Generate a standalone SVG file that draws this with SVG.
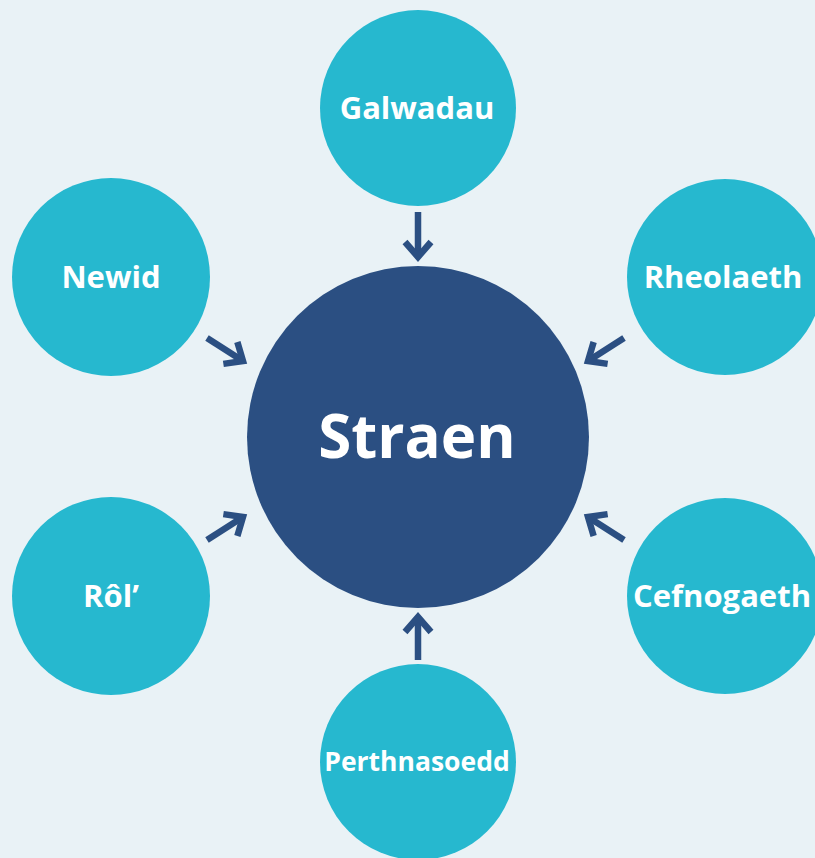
<svg xmlns="http://www.w3.org/2000/svg" width="815" height="858" viewBox="0 0 815 858">
<style>
.bg{fill:#e9f2f6}
.sat{fill:#26b8cf}
.core{fill:#2b4f82}
.lbl{font-family:"Open Sans","Noto Sans","Liberation Sans",sans-serif;font-weight:700;fill:#ffffff;text-anchor:middle}
.conn{stroke:#2b4f82;stroke-width:6.5;fill:none;stroke-linecap:butt}
</style>
<defs>
<marker id="ah" markerUnits="userSpaceOnUse" viewBox="-22 -18 28 36" refX="0" refY="0" markerWidth="28" markerHeight="36" orient="auto">
<path d="M-15,-13 L0,0 L-15,13" fill="none" stroke="#2b4f82" stroke-width="6.5" stroke-linejoin="miter"/>
</marker>
</defs>
<rect class="bg" x="0" y="0" width="815" height="858"/>
<g id="connectors">
<line class="conn" x1="418" y1="212" x2="418" y2="257" marker-end="url(#ah)"/>
<line class="conn" x1="418" y1="660" x2="418" y2="617" marker-end="url(#ah)"/>
<line class="conn" x1="207" y1="338" x2="243" y2="361" marker-end="url(#ah)"/>
<line class="conn" x1="624" y1="338" x2="588" y2="361" marker-end="url(#ah)"/>
<line class="conn" x1="207" y1="540" x2="243" y2="517" marker-end="url(#ah)"/>
<line class="conn" x1="624" y1="540" x2="588" y2="517" marker-end="url(#ah)"/>
</g>
<g id="straen">
<circle class="core" cx="418" cy="437" r="171"/>
<text class="lbl" x="417" y="458" font-size="60">Straen</text>
</g>
<g id="galwadau">
<circle class="sat" cx="418" cy="108" r="98"/>
<text class="lbl" x="417" y="119" font-size="31">Galwadau</text>
</g>
<g id="newid">
<circle class="sat" cx="111" cy="277" r="99"/>
<text class="lbl" x="111" y="288" font-size="31">Newid</text>
</g>
<g id="rheolaeth">
<circle class="sat" cx="725" cy="277" r="98"/>
<text class="lbl" x="723" y="288" font-size="31">Rheolaeth</text>
</g>
<g id="rol">
<circle class="sat" cx="111" cy="596" r="99"/>
<text class="lbl" x="111" y="607" font-size="31">Rôl’</text>
</g>
<g id="cefnogaeth">
<circle class="sat" cx="725" cy="596" r="98"/>
<text class="lbl" x="722" y="607" font-size="31">Cefnogaeth</text>
</g>
<g id="perthnasoedd">
<circle class="sat" cx="418" cy="762" r="98"/>
<text class="lbl" x="417" y="771" font-size="26.5">Perthnasoedd</text>
</g>
</svg>
